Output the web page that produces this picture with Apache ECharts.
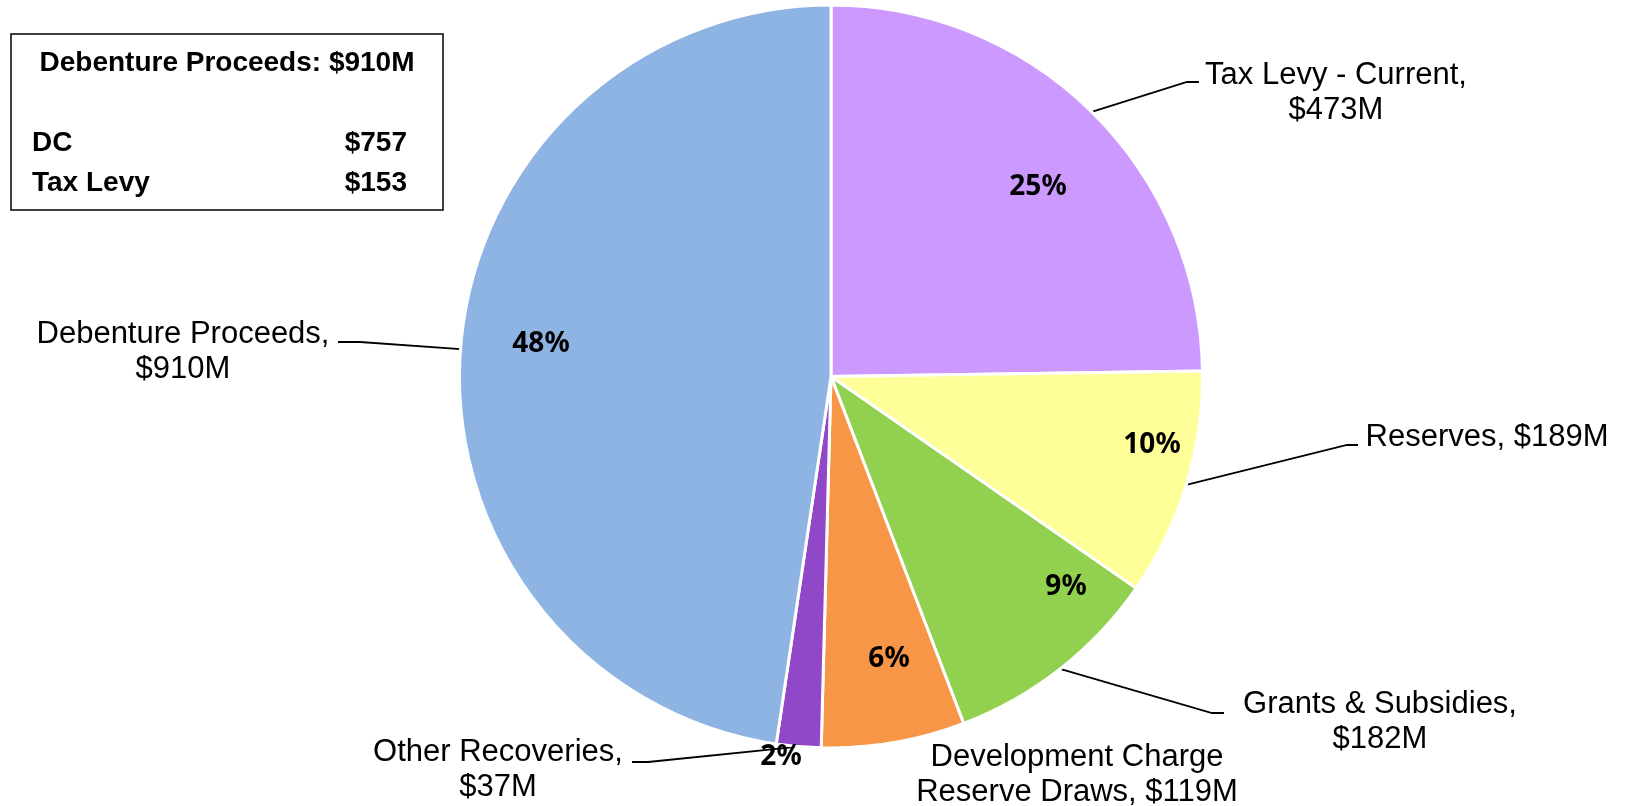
<!DOCTYPE html>
<html>
<head>
<meta charset="utf-8">
<script src="https://cdn.jsdelivr.net/npm/echarts@6/dist/echarts.min.js"></script>
<style>
html,body{margin:0;padding:0;background:#fff;}
#chart{width:1626px;height:806px;}
</style>
</head>
<body>
<div id="chart"></div>
<script>
// ---- data ----
const categories = ['Tax Levy - Current', 'Reserves', 'Grants & Subsidies', 'Development Charge Reserve Draws', 'Other Recoveries', 'Debenture Proceeds'];
const values = [473, 189, 182, 119, 37, 910];
const colors = ['#CC99FF', '#FFFF99', '#92D050', '#F79646', '#9148C8', '#8EB4E3'];
const boxTitle = 'Debenture Proceeds: $910M';
const boxLabels = ['DC', 'Tax Levy'];
const boxValues = [757, 153];

// ---- layout (not data) ----
const center = [831, 376.5];
const radius = 371.5;
// where each outer label line is broken
const wrapAfter = [', ', null, ', ', 'Charge ', ', ', ', '];
const outerLabelPos = [
  {x: 1336, y: 93, line: [[1187, 82], [1199, 82]]},
  {x: 1487, y: 437, line: [[1347, 445], [1358, 445]]},
  {x: 1380, y: 722, line: [[1212, 713], [1224, 713]]},
  {x: 1077, y: 775, line: null},
  {x: 498, y: 770, line: [[648, 762], [632, 762]]},
  {x: 183, y: 352, line: [[360, 342], [338, 342]]}
];
const innerLabelPos = [
  [1038, 187], [1152, 445], [1066, 587], [889, 659], [781, 757], [541, 344]
];

function outerText(name, value, i) {
  const full = name + ', $' + value + 'M';
  const br = wrapAfter[i];
  let lines = [full];
  if (br) {
    const k = full.indexOf(br);
    lines = [full.slice(0, k + br.length).trim(), full.slice(k + br.length)];
  }
  return lines.map(l => '{t|' + l + '}').join('\n');
}

const mainData = categories.map((c, i) => {
  const d = {name: c, value: values[i], itemStyle: {color: colors[i]}};
  if (!outerLabelPos[i].line) d.labelLine = {show: false};
  return d;
});
const overlayData = categories.map((c, i) => ({name: c, value: values[i]}));

const chart = echarts.init(document.getElementById('chart'), null, {renderer: 'canvas'});

const boxGraphics = [
  {type: 'rect', shape: {x: 11, y: 34, width: 432, height: 176},
   style: {fill: '#fff', stroke: '#000', lineWidth: 1.5}, z: 10},
  {type: 'text', x: 227, y: 63, style: {text: boxTitle, font: 'bold 28px "Liberation Sans", Arial, sans-serif',
    fill: '#000', textAlign: 'center', textVerticalAlign: 'middle'}, z: 11}
];
boxLabels.forEach((l, i) => {
  const y = 143 + i * 40;
  boxGraphics.push({type: 'text', x: 32, y: y, style: {text: l, font: 'bold 28px "Liberation Sans", Arial, sans-serif',
    fill: '#000', textAlign: 'left', textVerticalAlign: 'middle'}, z: 11});
  boxGraphics.push({type: 'text', x: 407, y: y, style: {text: '$' + boxValues[i], font: 'bold 28px "Liberation Sans", Arial, sans-serif',
    fill: '#000', textAlign: 'right', textVerticalAlign: 'middle'}, z: 11});
});

chart.setOption({
  animation: false,
  backgroundColor: '#fff',
  graphic: boxGraphics,
  series: [
    {
      type: 'pie',
      center: center,
      radius: radius,
      startAngle: 90,
      clockwise: true,
      avoidLabelOverlap: false,
      silent: true,
      data: mainData,
      itemStyle: {borderColor: '#fff', borderWidth: 3},
      label: {
        show: true,
        position: 'outside',
        formatter: p => outerText(p.name, p.value, p.dataIndex),
        rich: {t: {align: 'center', fontSize: 31, lineHeight: 35, fontFamily: '"Liberation Sans", Arial, sans-serif', color: '#000'}}
      },
      labelLine: {show: true, lineStyle: {color: '#000', width: 1.8}, length: 20, length2: 10},
      labelLayout: function (p) {
        const o = outerLabelPos[p.dataIndex];
        const res = {x: o.x, y: o.y, align: 'center', verticalAlign: 'middle'};
        if (o.line && p.labelLinePoints) {
          res.labelLinePoints = [p.labelLinePoints[0], o.line[0], o.line[1]];
        }
        return res;
      },
      emphasis: {disabled: true}
    },
    {
      type: 'pie',
      center: center,
      radius: radius,
      startAngle: 90,
      clockwise: true,
      silent: true,
      percentPrecision: 0,
      data: overlayData,
      itemStyle: {color: 'rgba(0,0,0,0)', borderWidth: 0},
      label: {
        show: true,
        position: 'inside',
        formatter: '{d}%',
        fontFamily: '"Noto Sans", sans-serif',
        fontWeight: 'bold',
        fontSize: 28,
        color: '#000'
      },
      labelLine: {show: false},
      labelLayout: function (p) {
        const q = innerLabelPos[p.dataIndex];
        return {x: q[0], y: q[1], align: 'center', verticalAlign: 'middle'};
      },
      emphasis: {disabled: true}
    }
  ]
});
</script>
</body>
</html>
